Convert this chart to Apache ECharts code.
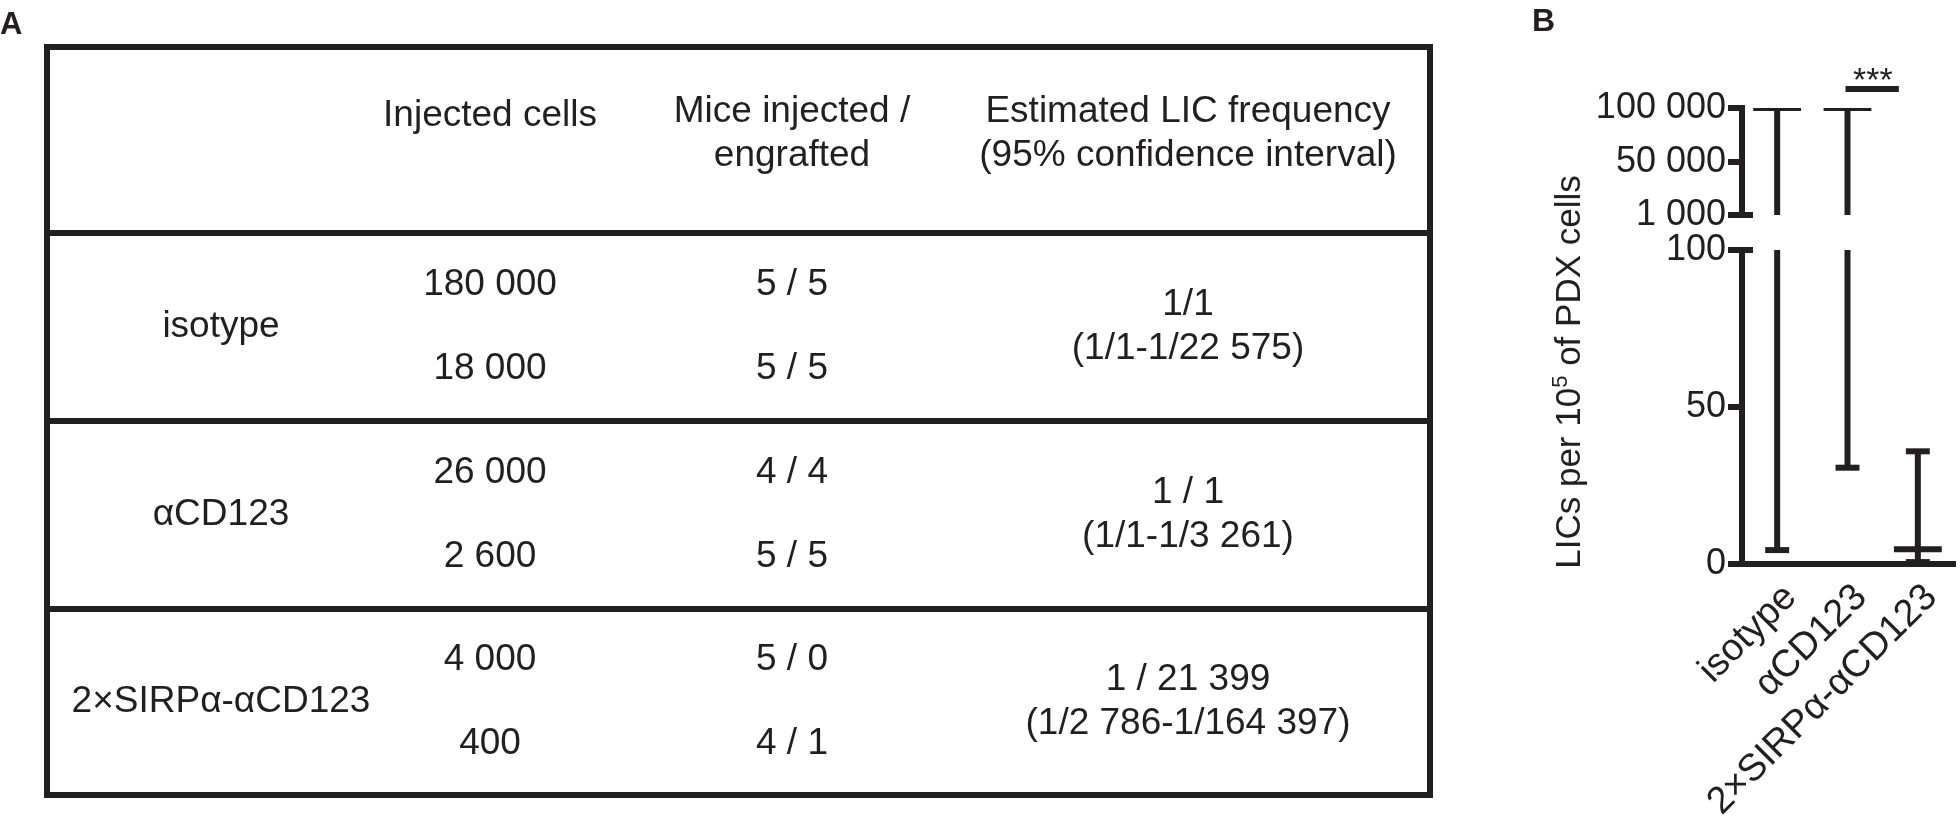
<!DOCTYPE html>
<html>
<head>
<meta charset="utf-8">
<script src="https://cdn.jsdelivr.net/npm/echarts@6/dist/echarts.min.js"></script>
<style>
    html, body { margin: 0; padding: 0; background: #fff; }
    #chart { width: 1960px; height: 824px; }
</style>
</head>
<body>
<div id="chart"></div>
<script>
// panel B data (LICs per 10^5 cells)
const categories = ["isotype", "αCD123", "2×SIRPα-αCD123"];
const licEstimate = [100000, 100000, 4.67];
const ciLower = [4.43, 30.67, 0.61];
const ciUpper = [100000, 100000, 35.89];
const upperTicks = [1000, 50000, 100000];
const lowerTicks = [0, 50, 100];
const significance = [{ from: 1, label: "***" }];

// panel A table
const tableHeader = ["Injected cells", "Mice injected /\nengrafted", "Estimated LIC frequency\n(95% confidence interval)"];
const groups = ["isotype", "αCD123", "2×SIRPα-αCD123"];
const injectedCells = [["180 000", "18 000"], ["26 000", "2 600"], ["4 000", "400"]];
const miceRatio = [["5 / 5", "5 / 5"], ["4 / 4", "5 / 5"], ["5 / 0", "4 / 1"]];
const licFrequency = ["1/1", "1 / 1", "1 / 21 399"];
const licInterval = ["(1/1-1/22 575)", "(1/1-1/3 261)", "(1/2 786-1/164 397)"];

const ink = "#231f20";
const font = "'Liberation Sans', Arial, sans-serif";

const chart = echarts.init(document.getElementById("chart"));

const fmt = (v) => String(v).replace(/\B(?=(\d{3})+(?!\d))/g, " ");

// table layout
const tableLeft = 47, tableRight = 1430;
const rowLines = [47, 233, 421, 609, 795];
const colX = [221, 490, 792, 1188];

const txt = (x, y, text, size, extra) => ({
    type: "text",
    x: x,
    y: y,
    style: Object.assign({
        text: text,
        fill: ink,
        fontSize: size || 37,
        fontFamily: font,
        align: "center",
        verticalAlign: "middle",
        lineHeight: 44,
    }, extra || {}),
});

const graphic = [];
graphic.push({
    type: "rect",
    shape: { x: tableLeft, y: rowLines[0], width: tableRight - tableLeft, height: rowLines[4] - rowLines[0] },
    style: { fill: "none", stroke: ink, lineWidth: 6 },
});
[1, 2, 3].forEach((k) => {
    graphic.push({
        type: "line",
        shape: { x1: tableLeft, y1: rowLines[k], x2: tableRight, y2: rowLines[k] },
        style: { stroke: ink, lineWidth: 6 },
    });
});
graphic.push(txt(colX[1], 116, tableHeader[0]));
graphic.push(txt(colX[2], 134, tableHeader[1]));
graphic.push(txt(colX[3], 134, tableHeader[2]));
groups.forEach((g, i) => {
    const c = (rowLines[i + 1] + rowLines[i + 2]) / 2;
    graphic.push(txt(colX[0], c, g));
    graphic.push(txt(colX[1], c - 42, injectedCells[i][0]));
    graphic.push(txt(colX[1], c + 42, injectedCells[i][1]));
    graphic.push(txt(colX[2], c - 42, miceRatio[i][0]));
    graphic.push(txt(colX[2], c + 42, miceRatio[i][1]));
    graphic.push(txt(colX[3], c, licFrequency[i] + "\n" + licInterval[i]));
});

// panel labels
graphic.push(txt(0, 25, "A", 31, { align: "left", fontWeight: "bold" }));
graphic.push(txt(1532, 22, "B", 32, { align: "left", fontWeight: "bold" }));

// y axis title
graphic.push({
    type: "text",
    x: 1570,
    y: 372,
    rotation: Math.PI / 2,
    style: {
        text: "{a|LICs per 10}{s|5}{a| of PDX cells}",
        align: "center",
        verticalAlign: "middle",
        rich: {
            a: { fontSize: 35, fontFamily: font, fill: ink, color: ink, lineHeight: 40 },
            s: { fontSize: 22, fontFamily: font, fill: ink, color: ink, lineHeight: 40, verticalAlign: "top" },
        },
    },
});

const barData = categories.map((c, i) => [i, licEstimate[i], ciLower[i], ciUpper[i]]);

const makeRender = (yMin, yMax) => (params, api) => {
    const i = api.value(0);
    const est = api.value(1), lo = api.value(2), hi = api.value(3);
    const clip = (v) => Math.min(yMax, Math.max(yMin, v));
    const band = api.size([1, 0])[0];
    const style = { stroke: ink, lineWidth: 6 };
    const children = [];
    const pTop = api.coord([i, clip(hi)]);
    const pBot = api.coord([i, clip(lo)]);
    if (pBot[1] - pTop[1] > 0.5) {
        children.push({ type: "line", shape: { x1: pTop[0], y1: pTop[1], x2: pBot[0], y2: pBot[1] }, style });
    }
    const cap = (v, half) => {
        if (v < yMin || v > yMax) return;
        const p = api.coord([i, v]);
        children.push({ type: "line", shape: { x1: p[0] - half, y1: p[1], x2: p[0] + half, y2: p[1] }, style });
    };
    cap(lo, band * 0.17);
    cap(hi, band * 0.17);
    cap(est, band * 0.34);
    return { type: "group", children };
};

const renderSig = (params, api) => {
    const i = api.value(0);
    const band = api.size([1, 0])[0];
    const p = api.coord([i, 100000]);
    const y = p[1] - 19;
    return {
        type: "group",
        children: [
            { type: "line", shape: { x1: p[0] - 2, y1: y, x2: p[0] + band * 0.73, y2: y }, style: { stroke: ink, lineWidth: 6 } },
            {
                type: "text",
                x: p[0] + band * 0.36,
                y: y - 7,
                style: { text: significance[params.dataIndex].label, fill: ink, fontSize: 34, fontFamily: font, align: "center", verticalAlign: "middle" },
            },
        ],
    };
};

const axisStyle = { lineStyle: { color: ink, width: 6, cap: "square" } };

const option = {
    animation: false,
    backgroundColor: "#fff",
    graphic: graphic,
    grid: [
        { left: 1742, top: 108, width: 211, height: 107 },
        { left: 1742, top: 250, width: 211, height: 319 },
    ],
    xAxis: [
        { type: "category", gridIndex: 0, data: categories, show: false },
        {
            type: "category",
            gridIndex: 1,
            data: categories,
            axisLine: axisStyle,
            axisTick: { alignWithLabel: true, length: 12, lineStyle: { color: ink, width: 6 } },
            axisLabel: { rotate: 45, margin: 14, verticalAlign: "top", fontSize: 38, fontFamily: font, color: ink, interval: 0 },
        },
    ],
    yAxis: [
        {
            type: "value",
            gridIndex: 0,
            min: 1000,
            max: 100000,
            axisLine: { show: true, lineStyle: { color: ink, width: 6, cap: "square" } },
            axisTick: { show: true, length: 14, customValues: upperTicks, lineStyle: { color: ink, width: 6 } },
            axisLabel: { customValues: upperTicks, margin: 16, fontSize: 36, fontFamily: font, color: ink, formatter: fmt },
            splitLine: { show: false },
        },
        {
            type: "value",
            gridIndex: 0,
            min: 1000,
            max: 100000,
            position: "left",
            axisLine: { show: false },
            axisTick: { show: true, inside: true, length: 11, customValues: [upperTicks[0]], lineStyle: { color: ink, width: 6 } },
            axisLabel: { show: false },
            splitLine: { show: false },
        },
        {
            type: "value",
            gridIndex: 1,
            min: 0,
            max: 100,
            axisLine: { show: true, lineStyle: { color: ink, width: 6, cap: "square" } },
            axisTick: { show: true, length: 14, customValues: lowerTicks, lineStyle: { color: ink, width: 6 } },
            axisLabel: { customValues: lowerTicks, margin: 16, fontSize: 36, fontFamily: font, color: ink, formatter: fmt },
            splitLine: { show: false },
        },
        {
            type: "value",
            gridIndex: 1,
            min: 0,
            max: 100,
            position: "left",
            axisLine: { show: false },
            axisTick: { show: true, inside: true, length: 11, customValues: [lowerTicks[2]], lineStyle: { color: ink, width: 6 } },
            axisLabel: { show: false },
            splitLine: { show: false },
        },
    ],
    series: [
        { type: "custom", xAxisIndex: 0, yAxisIndex: 0, clip: true, data: barData, renderItem: makeRender(1000, 100000) },
        { type: "custom", xAxisIndex: 1, yAxisIndex: 2, data: barData, renderItem: makeRender(0, 100) },
        { type: "custom", xAxisIndex: 0, yAxisIndex: 0, data: significance.map((s) => [s.from]), renderItem: renderSig },
    ],
};

chart.setOption(option);
window.addEventListener("resize", () => chart.resize());
</script>
</body>
</html>
